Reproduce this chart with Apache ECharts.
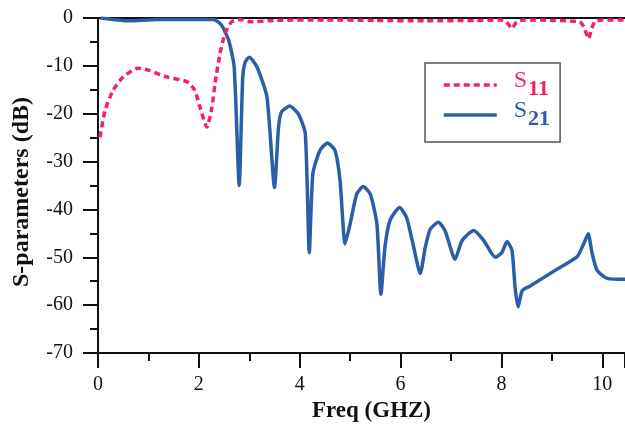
<!DOCTYPE html>
<html>
<head>
<meta charset="utf-8">
<script src="https://cdn.jsdelivr.net/npm/echarts@6/dist/echarts.min.js"></script>
<style>html,body{margin:0;padding:0;background:#fff}#c{width:625px;height:429px}</style>
</head>
<body>
<div id="c"></div>
<script>
// S11 (dashed pink)
const s11Freq = [0.04,0.14,0.30,0.50,0.80,1.00,1.36,1.76,1.92,2.02,2.16,2.26,2.32,2.42,2.52,2.65,2.82,3.02,3.5,4.5,5.5,6.5,7.5,8.0,8.1,8.21,8.3,8.45,9.0,9.55,9.63,9.73,9.78,9.85,10.0,10.45];
const s11Val  = [-24.9,-19.3,-15.1,-12.3,-10.5,-10.9,-12.3,-13.3,-15.1,-18.6,-22.8,-18.6,-13.7,-7.4,-3.2,-0.8,-0.3,-0.8,-0.5,-0.4,-0.5,-0.6,-0.5,-0.4,-0.8,-2.2,-0.8,-0.4,-0.5,-0.8,-1.8,-4.3,-2.5,-0.8,-0.4,-0.4];
// S21 (solid blue)
const s21Freq = [0.05,0.3,0.63,1.16,2.0,2.29,2.45,2.59,2.70,2.80,2.87,2.92,3.00,3.15,3.35,3.50,3.58,3.64,3.80,3.97,4.11,4.19,4.26,4.40,4.55,4.70,4.80,4.90,5.00,5.13,5.26,5.40,5.53,5.61,5.69,5.79,5.98,6.12,6.26,6.39,6.49,6.59,6.75,6.88,7.08,7.22,7.45,7.65,7.88,8.01,8.11,8.21,8.27,8.33,8.41,8.57,9.10,9.50,9.63,9.72,9.80,9.90,10.10,10.46];
const s21Val  = [0,-0.3,-0.6,-0.3,-0.3,-0.3,-1.5,-4.6,-10.2,-35.0,-12.3,-9.2,-8.2,-10.2,-16.5,-35.4,-22.8,-19.6,-18.4,-20.0,-24.1,-49.0,-32.6,-27.7,-26.1,-27.7,-34.0,-47.2,-43.0,-36.8,-35.2,-36.8,-43.0,-57.7,-47.9,-42.3,-39.6,-41.7,-47.9,-53.4,-47.9,-44.1,-42.7,-44.4,-50.4,-46.5,-44.4,-46.5,-50.0,-49.0,-46.7,-48.6,-56.3,-60.4,-57.0,-56.0,-52.5,-49.9,-47.2,-45.1,-49.3,-52.8,-54.4,-54.6];
const xTicks = [0,2,4,6,8,10];
const yTicks = [0,-10,-20,-30,-40,-50,-60,-70];

const pink = '#f4206b', blue = '#2a5ea9';
const serif = '"Liberation Serif", "DejaVu Serif", serif';
const zip = (a,b) => a.map((v,i)=>[v,b[i]]);

function rich(color){
  return {
    s: {fontFamily: serif, fontSize: 24, color: color, lineHeight: 28, padding: [0,0,8,12]},
    sub: {fontFamily: serif, fontSize: 22, fontWeight: 'bold', color: color, lineHeight: 22, padding: [8,0,0,1]}
  };
}

const chart = echarts.init(document.getElementById('c'), null, {renderer:'canvas'});
chart.setOption({
  animation: false,
  backgroundColor: '#fff',
  grid: {left: 98, right: 0, top: 18, bottom: 76},
  legend: {
    orient: 'vertical', left: 425, top: 63,
    padding: [6, 10, 11, 17],
    itemWidth: 53, itemHeight: 14, itemGap: -2,
    borderColor: '#555', borderWidth: 1.5,
    itemStyle: {opacity: 0},
    lineStyle: {width: 3.5},
    formatter: function(name){ return '{s|S}{sub|' + name.slice(1) + '}'; },
    data: [
      {name: 'S11', textStyle: {rich: rich(pink)}},
      {name: 'S21', textStyle: {rich: rich(blue)}}
    ]
  },
  xAxis: [{
    type: 'value', min: 0, max: 10.45, interval: 2,
    name: 'Freq (GHZ)', nameLocation: 'middle', nameGap: 42,
    nameTextStyle: {fontFamily: serif, fontSize: 23, fontWeight: 'bold', color: '#111', padding: [0,0,0,20]},
    axisLine: {show: true, onZero: false, lineStyle: {color: '#111', width: 2}},
    axisTick: {show: true, length: 15, lineStyle: {color: '#111', width: 2}},
    minorTick: {show: true, splitNumber: 2, length: 8, lineStyle: {color: '#111', width: 2}},
    splitLine: {show: false},
    axisLabel: {fontFamily: serif, fontSize: 20, color: '#111', margin: 22, showMaxLabel: false,
      formatter: v => xTicks.includes(v) ? String(v) : ''}
  }, {
    type: 'value', position: 'top', min: 0, max: 10.45,
    axisLine: {show: true, onZero: false, lineStyle: {color: '#111', width: 2}},
    axisTick: {show: false}, axisLabel: {show: false}, splitLine: {show: false}
  }],
  yAxis: {
    type: 'value', min: -70, max: 0, interval: 10,
    name: 'S-parameters (dB)', nameLocation: 'middle', nameGap: 64,
    nameTextStyle: {fontFamily: serif, fontSize: 24, fontWeight: 'bold', color: '#111', padding: [0,13,0,0]},
    axisLine: {show: true, onZero: false, lineStyle: {color: '#111', width: 2}},
    axisTick: {show: true, length: 15, lineStyle: {color: '#111', width: 2}},
    minorTick: {show: true, splitNumber: 2, length: 8, lineStyle: {color: '#111', width: 2}},
    splitLine: {show: false},
    axisLabel: {fontFamily: serif, fontSize: 20, color: '#111', margin: 25,
      formatter: v => yTicks.includes(v) ? String(v) : ''}
  },
  series: [
    {name: 'S11', type: 'line', data: zip(s11Freq, s11Val), symbol: 'none', smooth: 0.2,
     lineStyle: {color: pink, width: 3.5, type: [6,4]}, itemStyle: {color: pink}, z: 3},
    {name: 'S21', type: 'line', data: zip(s21Freq, s21Val), symbol: 'none', smooth: 0.2,
     lineStyle: {color: blue, width: 3.5}, itemStyle: {color: blue}, z: 2}
  ]
});
</script>
</body>
</html>
